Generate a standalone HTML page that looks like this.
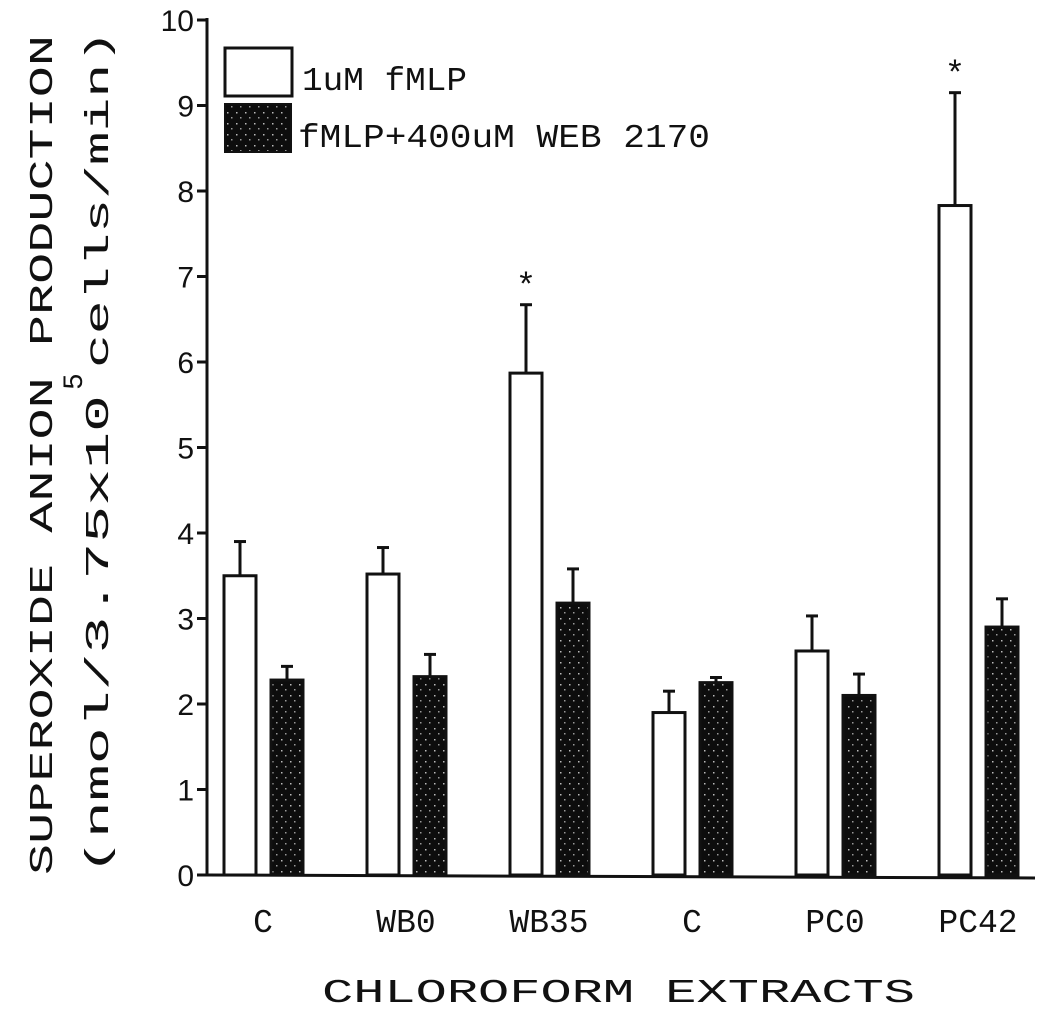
<!DOCTYPE html>
<html><head><meta charset="utf-8"><style>
html,body{margin:0;padding:0;background:#fff;}
svg{display:block;}
text{font-family:"Liberation Mono",monospace;fill:#111;}
</style></head><body>
<svg id="chart" width="1050" height="1010" viewBox="0 0 1050 1010" xmlns="http://www.w3.org/2000/svg">
<defs>
<pattern id="dots" width="9" height="11" patternUnits="userSpaceOnUse">
<rect width="9" height="11" fill="#0d0d0d"/>
<rect x="2" y="2" width="1.5" height="1.5" fill="#bbb"/>
<rect x="6" y="7" width="1.5" height="1.5" fill="#999"/>
</pattern>
</defs>
<g id="axes"></g>
<g id="bars"></g>
<text transform="translate(52,875) rotate(-90)" font-size="33" textLength="840" lengthAdjust="spacingAndGlyphs">SUPEROXIDE ANION PRODUCTION</text>
<text transform="translate(108,875) rotate(-90)" font-size="33" textLength="480" lengthAdjust="spacingAndGlyphs">(nmol/3.75x10</text>
<text transform="translate(82,390) rotate(-90)" font-size="28">5</text>
<text transform="translate(108,368) rotate(-90)" font-size="33" textLength="338" lengthAdjust="spacingAndGlyphs">cells/min)</text>
<text x="322" y="1002" font-size="33" textLength="593" lengthAdjust="spacingAndGlyphs">CHLOROFORM EXTRACTS</text>
<g>
<rect x="225" y="48" width="67" height="48" fill="#fff" stroke="#111" stroke-width="3"/>
<text x="302" y="90" font-size="33" textLength="165" lengthAdjust="spacingAndGlyphs">1uM fMLP</text>
<rect x="225" y="104" width="66" height="48" fill="url(#dots)" stroke="#111" stroke-width="2"/>
<text x="298" y="147" font-size="33" textLength="412" lengthAdjust="spacingAndGlyphs">fMLP+400uM WEB 2170</text>
</g>
</svg>
<script>
const categories=["C","WB0","WB35","C","PC0","PC42"];
const fmlpValues=[3.5,3.52,5.87,1.9,2.62,7.83];
const fmlpErrors=[0.4,0.31,0.8,0.25,0.41,1.32];
const webValues=[2.28,2.32,3.18,2.25,2.1,2.9];
const webErrors=[0.16,0.26,0.4,0.06,0.25,0.33];
const significant=[false,false,true,false,false,true];
const yTicks=[0,1,2,3,4,5,6,7,8,9,10];

const NS="http://www.w3.org/2000/svg";
const y0=875,y10=20,ax=207;
const yScale=v=>y0-(v/10)*(y0-y10);
const groupX=i=>224+i*143;
const bw=32, gap=47;
const axes=document.getElementById('axes'), bars=document.getElementById('bars');
function mk(tag,attrs,parent){const e=document.createElementNS(NS,tag);for(const k in attrs)e.setAttribute(k,attrs[k]);parent.appendChild(e);return e;}

let l=mk('line',{x1:ax,y1:y10-2,x2:ax,y2:y0,stroke:'#111','stroke-width':3},axes);


l=mk('line',{x1:ax,y1:y0,x2:1035,y2:y0+3,stroke:'#111','stroke-width':3},axes);


yTicks.forEach(t=>{
  const y=yScale(t);
  const tk=mk('line',{x1:ax-10,y1:y,x2:ax,y2:y,stroke:'#111','stroke-width':3},axes);
  
  
  const tx=mk('text',{x:194,y:y+11,'font-size':30,'text-anchor':'end',style:'font-family:"Liberation Sans",sans-serif'},axes);
  tx.textContent=t;
  
  
});
categories.forEach((c,i)=>{
  const gx=groupX(i);
  [[fmlpValues,fmlpErrors,'#fff','fmlp',gx],[webValues,webErrors,'url(#dots)','web',gx+gap]].forEach(([vals,errs,fill,key,x])=>{
    const v=vals[i],e=errs[i],cx=x+bw/2;
    const er=mk('line',{x1:cx,y1:yScale(v),x2:cx,y2:yScale(v+e),stroke:'#111','stroke-width':3},bars);
    
    
    const cap=mk('line',{x1:cx-6,y1:yScale(v+e),x2:cx+6,y2:yScale(v+e),stroke:'#111','stroke-width':3},bars);
    
    
    const r=mk('rect',{x:x,y:yScale(v),width:bw,height:y0-yScale(v),fill:fill,stroke:'#111','stroke-width':3},bars);
    
    
  });
  if(significant[i]){
    const s=mk('text',{x:gx+bw/2,y:yScale(fmlpValues[i]+fmlpErrors[i])-8,'font-size':34,'text-anchor':'middle'},bars);
    s.textContent='*';
    
    
  }
  const lb=mk('text',{x:gx+39,y:932,'font-size':33,'text-anchor':'middle'},bars);
  lb.textContent=c;
  
  
});
</script>
</body></html>
